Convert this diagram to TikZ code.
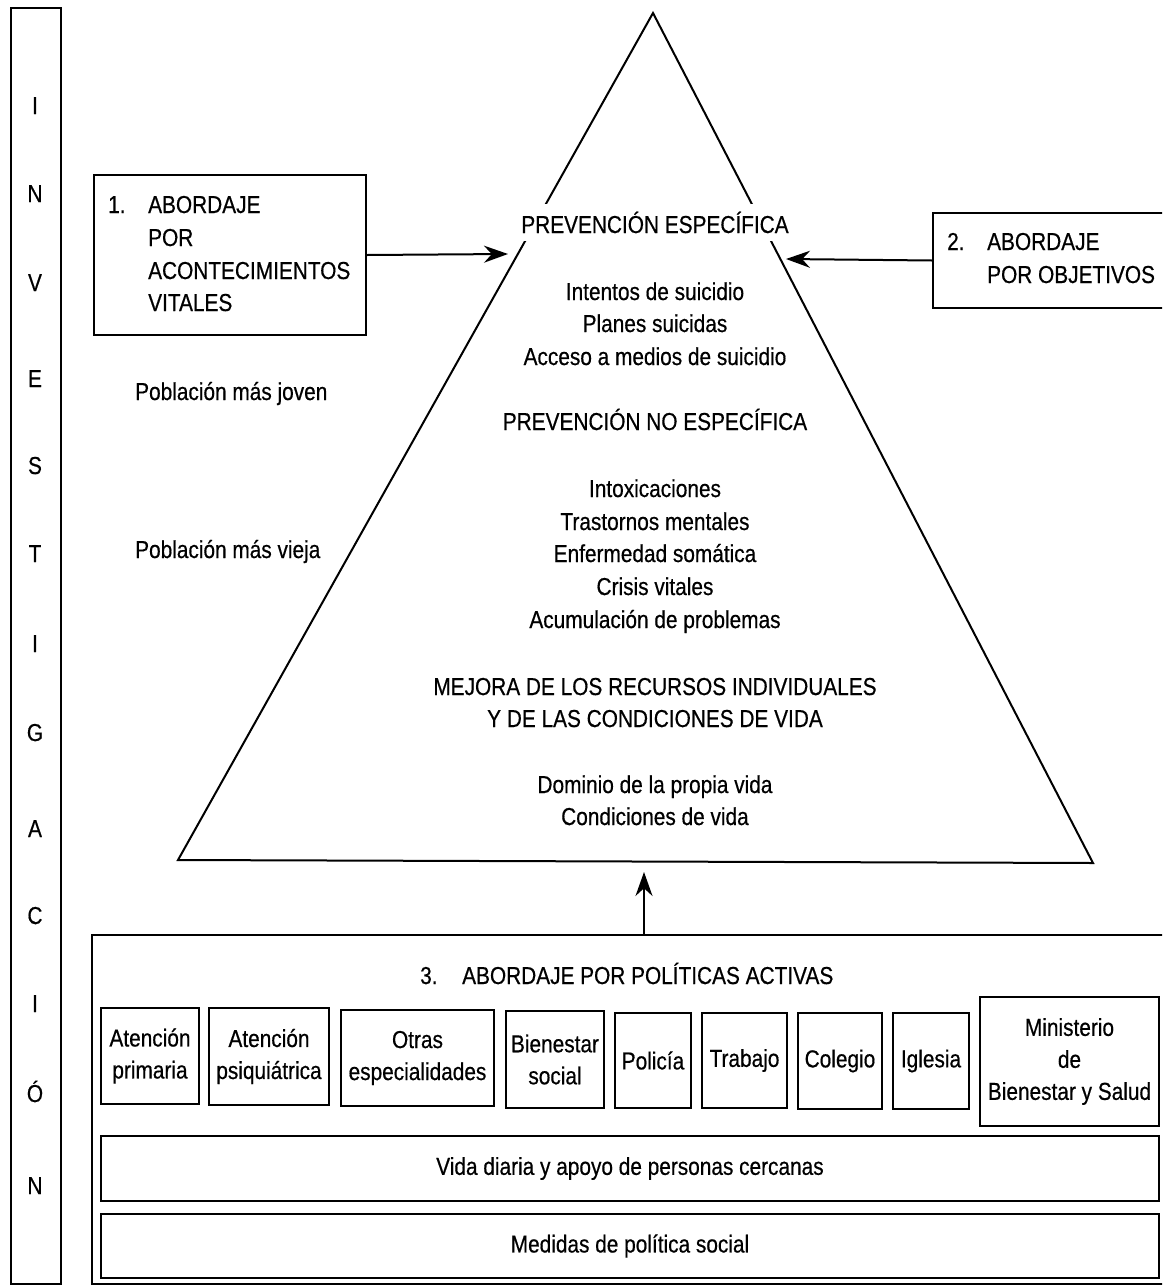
\documentclass[tikz,border=0pt]{standalone}
\usepackage{fontspec}
\setmainfont{Liberation Sans}[FakeStretch=0.85, FakeBold=0.5]
\usetikzlibrary{arrows.meta}
\begin{document}
\begin{tikzpicture}[x=1pt,y=-1pt,
  box/.style={draw, line width=2pt, inner sep=0pt},
  txt/.style={font=\fontsize{24.5}{32}\selectfont, inner sep=0pt},
  arr/.style={line width=2pt, -{Stealth[length=24pt,width=17pt]}}]
\useasboundingbox (0,0) rectangle (1162,1285);
\fill[white] (0,0) rectangle (1162,1285);
\begin{scope}
\clip (0,0) rectangle (1162,1285);
% vertical INVESTIGACION box
\node[box, minimum width=50pt, minimum height=1276pt, anchor=north west] (inv) at (10,7) {};
\foreach \l/\yy [count=\i] in {I/114, N/202, V/291, E/387, S/474, T/562, I/652, G/741, A/837, C/924, I/1012, Ó/1102, N/1194}
  \node[txt, anchor=base] (v\i) at (35,\yy) {\l};
% pyramid
\coordinate (apex) at (653,13);
\coordinate (bl) at (178,860);
\coordinate (br) at (1093,863);
\draw[line width=2pt, line join=miter] (apex) -- (bl) -- (br) -- cycle;
% box 1
\node[box, minimum width=272pt, minimum height=160pt, anchor=north west] (b1) at (93,174) {};
\node[txt, anchor=base west] (b1n) at (108,213) {1.};
\node[txt, anchor=base west] (b1a) at (148,213) {ABORDAJE};
\node[txt, anchor=base west] (b1b) at (148,246) {POR};
\node[txt, anchor=base west] (b1c) at (148,279) {ACONTECIMIENTOS};
\node[txt, anchor=base west] (b1d) at (148,311) {VITALES};
% box 2
\node[box, minimum width=240pt, minimum height=95pt, anchor=north west] (b2) at (932,212) {};
\node[txt, anchor=base west] (b2n) at (947,250) {2.};
\node[txt, anchor=base west] (b2a) at (987,250) {ABORDAJE};
\node[txt, anchor=base west] (b2b) at (987,283) {POR OBJETIVOS};
% arrows to pyramid
\coordinate (t1) at (508,254);
\coordinate (t2) at (786,259);
\draw[arr] (b1.east) -- (t1);
\draw[arr] (b2.west) -- (t2);
% population labels
\node[txt, anchor=base west] (pj) at (135,400) {Población más joven};
\node[txt, anchor=base west] (pv) at (135,558) {Población más vieja};
% pyramid texts
\node[txt, anchor=base, fill=white, inner xsep=3pt, inner ysep=8pt] (p1) at (655,233) {PREVENCIÓN ESPECÍFICA};
\node[txt, anchor=base] (p2) at (655,300) {Intentos de suicidio};
\node[txt, anchor=base] (p3) at (655,332) {Planes suicidas};
\node[txt, anchor=base] (p4) at (655,365) {Acceso a medios de suicidio};
\node[txt, anchor=base] (p5) at (655,430) {PREVENCIÓN NO ESPECÍFICA};
\node[txt, anchor=base] (p6) at (655,497) {Intoxicaciones};
\node[txt, anchor=base] (p7) at (655,530) {Trastornos mentales};
\node[txt, anchor=base] (p8) at (655,562) {Enfermedad somática};
\node[txt, anchor=base] (p9) at (655,595) {Crisis vitales};
\node[txt, anchor=base] (p10) at (655,628) {Acumulación de problemas};
\node[txt, anchor=base] (p11) at (655,695) {MEJORA DE LOS RECURSOS INDIVIDUALES};
\node[txt, anchor=base] (p12) at (655,727) {Y DE LAS CONDICIONES DE VIDA};
\node[txt, anchor=base] (p13) at (655,793) {Dominio de la propia vida};
\node[txt, anchor=base] (p14) at (655,825) {Condiciones de vida};
% outer box 3
\node[box, minimum width=1080pt, minimum height=349pt, anchor=north west] (outer) at (91,934) {};
\coordinate (t3) at (644,872);
\draw[arr] (t3 |- outer.north) -- (t3);
\node[txt, anchor=base west] (h3n) at (420,984) {3.};
\node[txt, anchor=base west] (h3) at (462,984) {ABORDAJE POR POLÍTICAS ACTIVAS};
% small boxes
\node[box, txt, align=center, minimum width=98pt, minimum height=96pt, anchor=north west] (ap) at (100,1007) {Atención\\primaria};
\node[box, txt, align=center, minimum width=120pt, minimum height=97pt, anchor=north west] (aps) at (208,1007) {Atención\\psiquiátrica};
\node[box, txt, align=center, minimum width=153pt, minimum height=96pt, anchor=north west] (otr) at (340,1009) {Otras\\especialidades};
\node[box, txt, align=center, minimum width=98pt, minimum height=97pt, anchor=north west] (bie) at (505,1010) {Bienestar\\social};
\node[box, txt, align=center, minimum width=76pt, minimum height=95pt, anchor=north west] (pol) at (614,1012) {Policía};
\node[box, txt, align=center, minimum width=85pt, minimum height=95pt, anchor=north west] (tra) at (701,1012) {Trabajo};
\node[box, txt, align=center, minimum width=84pt, minimum height=96pt, anchor=north west] (col) at (797,1012) {Colegio};
\node[box, txt, align=center, minimum width=76pt, minimum height=96pt, anchor=north west] (igl) at (892,1012) {Iglesia};
\node[box, txt, align=center, minimum width=179pt, minimum height=129pt, anchor=north west] (min) at (979,996) {Ministerio\\de\\Bienestar y Salud};
% bottom rows
\node[box, txt, minimum width=1058pt, minimum height=65pt, anchor=north west] (vid) at (100,1135) {Vida diaria y apoyo de personas cercanas};
\node[box, txt, minimum width=1058pt, minimum height=64pt, anchor=north west] (med) at (100,1213) {Medidas de política social};
\end{scope}
\end{tikzpicture}
\end{document}
